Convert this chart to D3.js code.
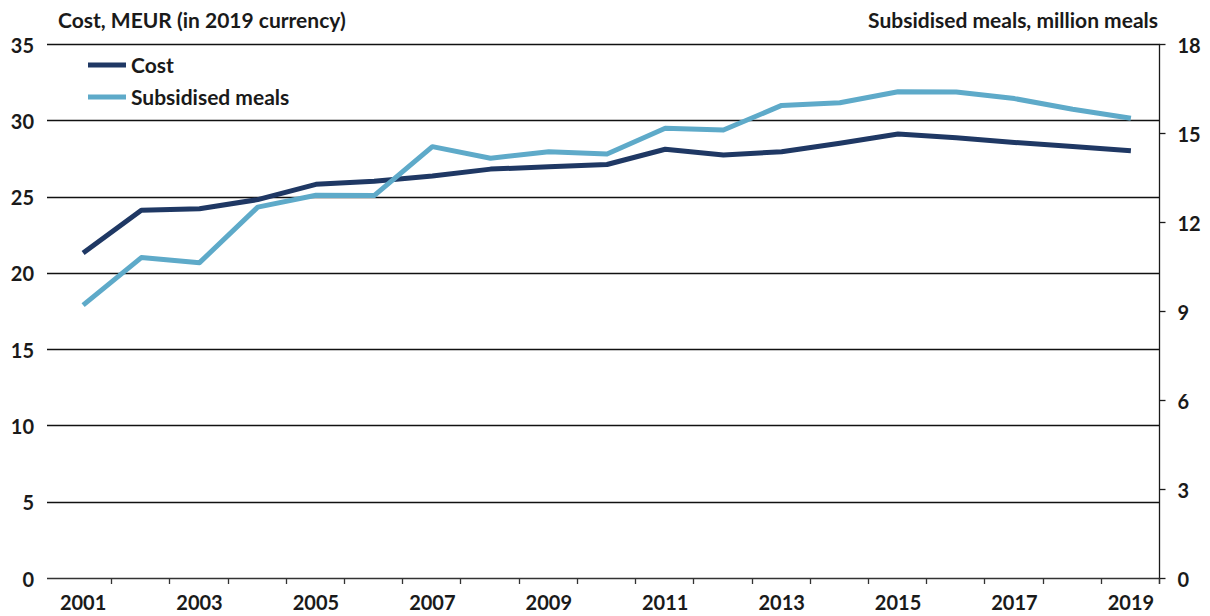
<!DOCTYPE html>
<html>
<head>
<meta charset="utf-8">
<script src="https://cdn.jsdelivr.net/npm/d3@7"></script>
<style>
  body { margin: 0; background: #fff; }
  svg { display: block; font-family: Lato, "Open Sans", sans-serif; font-weight: 700; }
</style>
</head>
<body>
<div id="chart"></div>
<script>
const years = [2001, 2002, 2003, 2004, 2005, 2006, 2007, 2008, 2009, 2010,
               2011, 2012, 2013, 2014, 2015, 2016, 2017, 2018, 2019];
const cost = [21.3, 24.1, 24.2, 24.8, 25.8, 26.0, 26.35, 26.8, 26.96, 27.1,
              28.1, 27.72, 27.94, 28.5, 29.1, 28.85, 28.55, 28.28, 28.0];
const meals = [9.2, 10.8, 10.63, 12.5, 12.9, 12.89, 14.54, 14.15, 14.37, 14.29,
               15.16, 15.1, 15.93, 16.02, 16.39, 16.38, 16.16, 15.8, 15.5];
const leftTicks = [0, 5, 10, 15, 20, 25, 30, 35];
const rightTicks = [0, 3, 6, 9, 12, 15, 18];
const labelYears = [2001, 2003, 2005, 2007, 2009, 2011, 2013, 2015, 2017, 2019];

const W = 1210, H = 616;
const plotLeft = 54, plotRight = 1160, plotTop = 44, plotBottom = 578;
const ink = '#1a1a1a';
const navy = '#1f3864';
const sky = '#5eaac9';
const tickFont = 20, titleFont = 21;

const svg = d3.select('#chart').append('svg')
  .attr('width', W).attr('height', H);

const x = d3.scaleBand().domain(years).range([plotLeft, plotRight]);
const yL = d3.scaleLinear().domain([0, 35]).range([plotBottom, plotTop]);
const yR = d3.scaleLinear().domain([0, 18]).range([plotBottom, plotTop]);

// gridlines
svg.append('g')
  .selectAll('line')
  .data(leftTicks)
  .enter()
  .append('line')
  .attr('x1', 47).attr('x2', plotRight)
  .attr('y1', d => Math.round(yL(d)) + 0.5)
  .attr('y2', d => Math.round(yL(d)) + 0.5)
  .attr('stroke', d => d === 0 ? '#333' : '#111')
  .attr('stroke-width', 1.3);

// left axis labels
const gl = svg.append('g')
  .attr('transform', `translate(34,0)`)
  .call(d3.axisLeft(yL).tickValues(leftTicks).tickSize(0).tickPadding(0));
gl.select('.domain').remove();
gl.selectAll('text')
  .attr('font-family', 'Lato').attr('font-weight', 700)
  .attr('font-size', tickFont).attr('fill', ink).attr('dy', '0.4em');

// right axis
const gr = svg.append('g')
  .attr('transform', `translate(${plotRight - 0.5},0)`)
  .call(d3.axisRight(yR).tickValues(rightTicks).tickSize(6).tickSizeOuter(0).tickPadding(12));
gr.select('.domain').attr('stroke', ink).attr('stroke-width', 1.3)
  .attr('d', `M0,${plotTop}V${plotBottom + 6}`);
gr.selectAll('.tick line').attr('stroke', ink).attr('stroke-width', 1.3);
gr.selectAll('text')
  .attr('font-family', 'Lato').attr('font-weight', 700)
  .attr('font-size', tickFont).attr('fill', ink).attr('dy', '0.4em');

// x axis: boundary ticks and odd-year labels
svg.append('g')
  .selectAll('line')
  .data(years)
  .enter()
  .append('line')
  .attr('x1', d => Math.round(x(d) + x.bandwidth()) - 0.5)
  .attr('x2', d => Math.round(x(d) + x.bandwidth()) - 0.5)
  .attr('y1', plotBottom).attr('y2', plotBottom + 6)
  .attr('stroke', '#333').attr('stroke-width', 1.3);

const gx = svg.append('g')
  .attr('transform', `translate(0,${plotBottom})`)
  .call(d3.axisBottom(x).tickValues(labelYears).tickSize(0).tickPadding(18));
gx.select('.domain').remove();
gx.selectAll('text')
  .attr('font-family', 'Lato').attr('font-weight', 700)
  .attr('font-size', tickFont).attr('fill', ink);

// lines
const xc = d => x(d) + x.bandwidth() / 2;
const costLine = d3.line().x((d, i) => xc(years[i])).y(d => yL(d));
const mealLine = d3.line().x((d, i) => xc(years[i])).y(d => yR(d));

svg.append('path')
  .datum(cost)
  .attr('d', costLine)
  .attr('fill', 'none').attr('stroke', navy)
  .attr('stroke-width', 5).attr('stroke-linejoin', 'round');

svg.append('path')
  .datum(meals)
  .attr('d', mealLine)
  .attr('fill', 'none').attr('stroke', sky)
  .attr('stroke-width', 5).attr('stroke-linejoin', 'round');

// axis titles
svg.append('text')
  .attr('x', 58).attr('y', 28)
  .attr('font-size', titleFont).attr('fill', ink)
  .text('Cost, MEUR (in 2019 currency)');
svg.append('text')
  .attr('x', 1158).attr('y', 28)
  .attr('text-anchor', 'end')
  .attr('font-size', titleFont).attr('fill', ink)
  .text('Subsidised meals, million meals');

// legend
const legend = [
  { name: 'Cost', color: navy },
  { name: 'Subsidised meals', color: sky },
];
const lg = svg.append('g')
  .selectAll('g')
  .data(legend)
  .enter()
  .append('g')
  .attr('transform', (d, i) => `translate(88,${65 + i * 32})`);
lg.append('line')
  .attr('x1', 0).attr('x2', 38)
  .attr('stroke', d => d.color).attr('stroke-width', 5);
lg.append('text')
  .attr('x', 43).attr('y', 8)
  .attr('font-size', titleFont).attr('fill', ink)
  .text(d => d.name);
</script>
</body>
</html>
